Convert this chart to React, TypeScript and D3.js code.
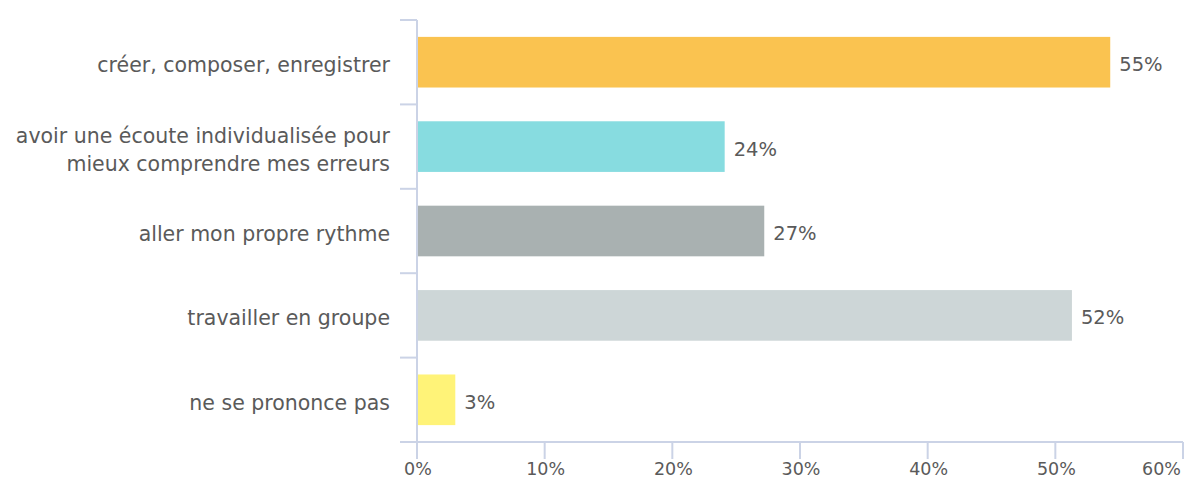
import React from "react";
import * as d3 from "d3";

const categories: string[][] = [
  ["créer, composer, enregistrer"],
  ["avoir une écoute individualisée pour", "mieux comprendre mes erreurs"],
  ["aller mon propre rythme"],
  ["travailler en groupe"],
  ["ne se prononce pas"],
];
const values = [54.3, 24.1, 27.2, 51.3, 3.0];
const valueLabels = ["55%", "24%", "27%", "52%", "3%"];
const colors = ["#FAC350", "#87DCE0", "#A9B1B1", "#CDD6D7", "#FFF378"];
const xTicks = [0, 10, 20, 30, 40, 50, 60];

const W = 1186;
const H = 479;
const left = 417;
const right = 1183;
const top = 20;
const bottom = 442;
const axisColor = "#CBD3E6";
const textColor = "#5a5a5a";
const font = "'DejaVu Sans', sans-serif";

export default function App() {
  const x = d3.scaleLinear().domain([0, 60]).range([left, right]);
  const y = d3
    .scaleBand<number>()
    .domain(values.map((_, i) => i))
    .range([top, bottom])
    .paddingInner(0.4)
    .paddingOuter(0.2);
  const bandEdges = d3.range(values.length + 1).map((i) => top + i * ((bottom - top) / values.length));

  return (
    <svg
      width={W}
      height={H}
      style={{ position: "absolute", left: 0, top: 0, display: "block", background: "#fff" }}
    >
      {values.map((v, i) => (
        <rect
          key={"b" + i}
          x={x(0)}
          y={y(i)!}
          width={x(v) - x(0)}
          height={y.bandwidth()}
          fill={colors[i]}
        />
      ))}
      {values.map((v, i) => (
        <text
          key={"v" + i}
          x={x(v) + 9}
          y={y(i)! + y.bandwidth() / 2 + 9}
          fontFamily={font}
          fontSize={19.5}
          fill={textColor}
        >
          {valueLabels[i]}
        </text>
      ))}
      <line x1={left} x2={left} y1={top} y2={bottom} stroke={axisColor} strokeWidth={2} />
      {bandEdges.map((yy, i) => (
        <line key={"yt" + i} x1={400} x2={left} y1={yy} y2={yy} stroke={axisColor} strokeWidth={2} />
      ))}
      {categories.map((lines, i) => {
        const cy = y(i)! + y.bandwidth() / 2 + 10;
        const lh = 28;
        return (
          <text key={"c" + i} textAnchor="end" fontFamily={font} fontSize={20.5} fill={textColor}>
            {lines.map((ln, j) => (
              <tspan key={j} x={390} y={cy + (j - (lines.length - 1) / 2) * lh}>
                {ln}
              </tspan>
            ))}
          </text>
        );
      })}
      <line x1={400} x2={right} y1={bottom} y2={bottom} stroke={axisColor} strokeWidth={2} />
      {xTicks.map((t, i) => {
        const last = i === xTicks.length - 1;
        return (
          <g key={"xt" + t}>
            <line x1={x(t)} x2={x(t)} y1={bottom} y2={bottom + 17} stroke={axisColor} strokeWidth={2} />
            <text
              x={last ? x(t) - 2 : x(t) + 1}
              y={bottom + 33}
              textAnchor={last ? "end" : "middle"}
              fontFamily={font}
              fontSize={17.5}
              fill={textColor}
            >
              {t + "%"}
            </text>
          </g>
        );
      })}
    </svg>
  );
}
